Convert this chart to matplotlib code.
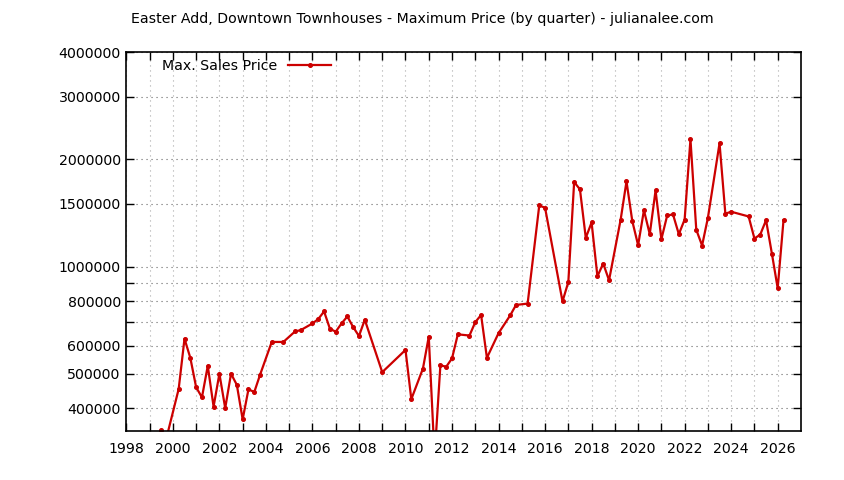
import numpy as np
import matplotlib
matplotlib.use('Agg')
import matplotlib.pyplot as plt
from matplotlib.ticker import FixedLocator, NullLocator

# quarterly maximum sale prices (quarter start as fractional year)
quarters = [1999.5, 1999.75, 2000.25, 2000.5, 2000.75, 2001.0, 2001.25, 2001.5, 2001.75,
            2002.0, 2002.25, 2002.5, 2002.75, 2003.0, 2003.25, 2003.5, 2003.75,
            2004.25, 2004.75, 2005.25, 2005.5, 2006.0, 2006.25, 2006.5, 2006.75,
            2007.0, 2007.25, 2007.5, 2007.75, 2008.0, 2008.25, 2009.0,
            2010.0, 2010.25, 2010.75, 2011.0, 2011.25, 2011.5, 2011.75,
            2012.0, 2012.25, 2012.75, 2013.0, 2013.25, 2013.5, 2014.0, 2014.5, 2014.75,
            2015.25, 2015.75, 2016.0, 2016.75, 2017.0, 2017.25, 2017.5, 2017.75,
            2018.0, 2018.25, 2018.5, 2018.75, 2019.25, 2019.5, 2019.75,
            2020.0, 2020.25, 2020.5, 2020.75, 2021.0, 2021.25, 2021.5, 2021.75,
            2022.0, 2022.25, 2022.5, 2022.75, 2023.0, 2023.5, 2023.75, 2024.0,
            2024.75, 2025.0, 2025.25, 2025.5, 2025.75, 2026.0, 2026.25]
max_price = [347000, 335000, 453000, 627000, 554000, 458000, 429000, 526000, 404000,
             500000, 400000, 500000, 465000, 372000, 452000, 444000, 497000,
             614000, 614000, 657000, 663000, 692000, 712000, 748000, 669000,
             656000, 692000, 724000, 676000, 638000, 709000, 505000,
             583000, 424000, 517000, 635000, 292000, 528000, 523000,
             552000, 645000, 640000, 698000, 731000, 554000, 650000, 729000, 780000,
             787000, 1485000, 1463000, 798000, 905000, 1728000, 1648000, 1204000,
             1330000, 939000, 1020000, 915000, 1356000, 1735000, 1342000,
             1148000, 1440000, 1233000, 1637000, 1194000, 1392000, 1401000, 1233000,
             1356000, 2279000, 1269000, 1146000, 1371000, 2221000, 1408000, 1426000,
             1383000, 1199000, 1230000, 1350000, 1088000, 869000, 1350000]

ytick_vals = [400000, 500000, 600000, 700000, 800000, 900000, 1000000,
              1500000, 2000000, 3000000, 4000000]
ytick_labels = ['400000', '500000', '600000', '', '800000', '', '1000000',
                '1500000', '2000000', '3000000', '4000000']
xtick_years = list(range(1998, 2027, 2))

plt.rcParams['font.family'] = 'DejaVu Sans'
fig = plt.figure(figsize=(8.44, 4.8), dpi=100)
ax = fig.add_axes([0.1497, 0.102, 0.949 - 0.1497, 0.891 - 0.102])

ax.plot(quarters, max_price, color='#cc0000', lw=1.6, marker='o', ms=2.6,
        label='Max. Sales Price')

ax.set_yscale('log')
ax.set_ylim(345000, 4000000)
ax.set_xlim(1998, 2027)

ax.yaxis.set_major_locator(FixedLocator(ytick_vals))
ax.set_yticklabels(ytick_labels)
ax.yaxis.set_minor_locator(NullLocator())
ax.set_xticks(xtick_years)
ax.set_xticklabels([str(y) for y in xtick_years])
ax.set_xticks(range(1999, 2027, 2), minor=True)

ax.tick_params(axis='both', which='both', direction='in', length=6, width=1,
               top=True, right=True, labelsize=10.2, colors='black')
ax.tick_params(axis='x', pad=8)
ax.tick_params(axis='y', pad=4)

ax.grid(True, which='both', axis='x', color='#aaaaaa', lw=0.8, ls=(0, (1, 3.5)))
ax.grid(True, which='major', axis='y', color='#666666', lw=0.8, ls=(0, (1, 3.5)))
for s in ax.spines.values():
    s.set_linewidth(1.2)

leg = ax.legend(loc='upper left', frameon=False, markerfirst=False, handlelength=3.0,
                fontsize=10.2, borderaxespad=0.3, bbox_to_anchor=(0.038, 1.008))

fig.text(0.5, 1 - 19 / 480, 'Easter Add, Downtown Townhouses - Maximum Price (by quarter) - julianalee.com',
         ha='center', va='center', fontsize=10.2)

fig.savefig('out.png', dpi=100)
